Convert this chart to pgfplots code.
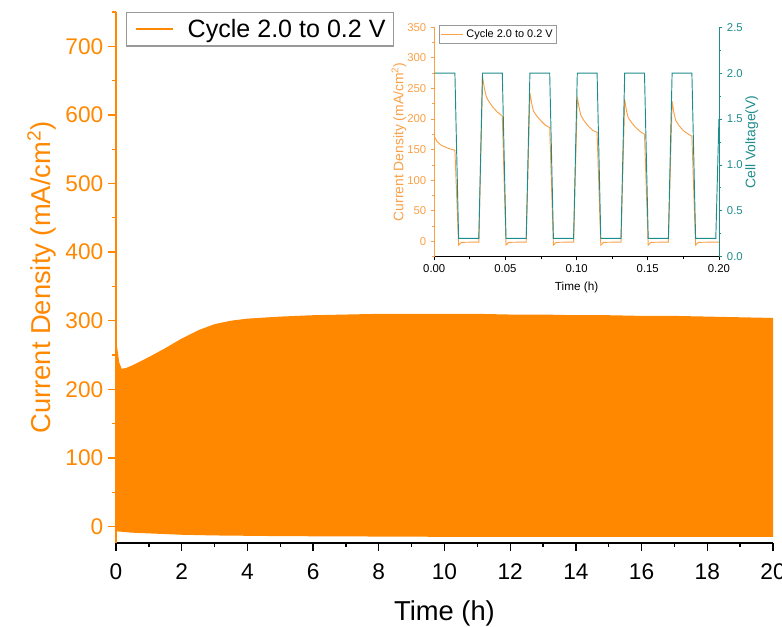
\documentclass[border=0pt]{standalone}
\usepackage{fontspec}
\setmainfont{Liberation Sans}
\usepackage{pgfplots}
\pgfplotsset{compat=1.18}
\definecolor{orangeC}{RGB}{255,136,0}
\definecolor{orangeL}{RGB}{250,160,70}
\definecolor{tealC}{RGB}{30,140,140}
\begin{document}
\begin{tikzpicture}
\begin{axis}[
  at={(0,0)}, anchor=south west,
  scale only axis, width=492.75pt, height=398.25pt,
  xmin=0, xmax=20, ymin=-24, ymax=750,
  axis x line*=bottom, axis y line*=left,
  x axis line style={black, line width=1pt, -},
  y axis line style={orangeC, line width=1pt, -},
  xtick={0,2,...,20}, minor xtick={1,3,...,19},
  ytick={0,100,...,700}, minor ytick={50,150,...,750},
  tick align=outside,
  major tick length=6pt, minor tick length=3pt,
  x tick style={black, line width=1pt},
  y tick style={orangeC, line width=1pt},
  /pgf/number format/assume math mode=true,
  ticklabel style={font=\fontsize{17}{20}\selectfont},
  xticklabel style={yshift=-6pt},
  yticklabel style={orangeC},
  xlabel={Time (h)},
  ylabel={Current Density (mA/cm\textsuperscript{2})},
  label style={font=\fontsize{20.5}{24}\selectfont},
  xlabel style={yshift=-9pt},
  ylabel style={orangeC},
  legend style={at={(0.015,1)}, anchor=north west, draw=gray!80, line width=0.8pt,
    font=\fontsize{18.8}{21}\selectfont, inner xsep=4pt, inner ysep=3pt},
  legend cell align=left,
  legend image code/.code={\path[draw=none] (-3pt,0pt) -- (0pt,0pt); \draw[#1] (0pt,0pt) -- (28pt,0pt); \path[draw=none] (28pt,0pt) -- (37pt,0pt);},
]
\addplot[fill=orangeC, draw=none, forget plot] coordinates {
(0,-23) (0,272) (0.05,256) (0.1,239) (0.17,230) (0.3,231) (0.5,235) (0.75,241) (1.0,247)
(1.5,260) (2.0,274) (2.5,286) (3.0,295) (3.5,300) (4.0,303) (5,306) (6,308) (7,309)
(8,310) (9,310) (10,310) (11,310) (12,309) (13,309) (14,308) (15,308) (16,307)
(17,307) (18,306) (19,305) (20,304)
(20,-15) (10,-15) (5,-14) (3,-13) (2,-12) (1,-10) (0.5,-9) (0.02,-7) (0.01,-23)
};
\addlegendimage{orangeC, line width=1.2pt}
\addlegendentry{Cycle 2.0 to 0.2 V}
\end{axis}

% inset, current density
\begin{axis}[
  at={(238.7pt,214.7pt)}, anchor=south west,
  scale only axis, width=213.5pt, height=172.1pt,
  xmin=0, xmax=0.2, ymin=-25, ymax=350,
  axis x line*=bottom, axis y line*=left,
  x axis line style={black, line width=0.6pt, -},
  y axis line style={orangeL, line width=0.6pt, -},
  xtick={0,0.05,0.1,0.15,0.2}, minor xtick={0.025,0.075,0.125,0.175},
  ytick={0,50,...,350}, minor ytick={-25,25,75,...,325},
  tick align=outside,
  major tick length=2.5pt, minor tick length=1.5pt,
  x tick style={black, line width=0.6pt},
  y tick style={orangeL, line width=0.6pt},
  xticklabel style={/pgf/number format/.cd, fixed, fixed zerofill, precision=2},
  /pgf/number format/assume math mode=true,
  ticklabel style={font=\fontsize{8.5}{10}\selectfont},
  yticklabel style={orangeL},
  xlabel={Time (h)},
  ylabel={Current Density (mA/cm\textsuperscript{2})},
  xlabel style={font=\fontsize{8.8}{10}\selectfont},
  ylabel style={orangeL, font=\fontsize{10.4}{12}\selectfont, yshift=-6pt},
  legend style={at={(0.015,1.01)}, anchor=north west, draw=gray!80, line width=0.5pt,
    font=\fontsize{8.2}{10}\selectfont, inner xsep=1pt, inner ysep=1pt},
  legend cell align=left,
  legend image code/.code={\draw[#1] (0pt,0pt) -- (17pt,0pt);},
]
\addplot[orangeL, line width=0.7pt] coordinates {
(0,172) (0.002,163) (0.005,157) (0.01,152) (0.0145,149)
(0.0171,-6) (0.018,-4) (0.019,-1.5) (0.0313,-1)
(0.0339,270) (0.0352,250) (0.0365,237) (0.038,230) (0.041,220) (0.044,212) (0.0478,205)
(0.0504,-6) (0.0513,-4) (0.0523,-1.5) (0.0646,-1)
(0.0672,243) (0.0685,225) (0.0697,213) (0.072,205) (0.075,197) (0.078,190) (0.0811,186)
(0.0837,-6) (0.0846,-4) (0.0856,-1.5) (0.0979,-1)
(0.1005,236) (0.1018,218) (0.1030,206) (0.105,198) (0.108,189) (0.111,182) (0.1144,178)
(0.1170,-6) (0.1179,-4) (0.1189,-1.5) (0.1312,-1)
(0.1338,232) (0.1351,213) (0.1363,202) (0.139,193) (0.142,185) (0.145,179) (0.1477,175)
(0.1503,-6) (0.1512,-4) (0.1522,-1.5) (0.1645,-1)
(0.1671,229) (0.1684,210) (0.1696,198) (0.172,189) (0.175,181) (0.178,176) (0.1810,172)
(0.1836,-6) (0.1845,-4) (0.1855,-1.5) (0.1978,-1) (0.2,-1)
};
\addlegendentry{Cycle 2.0 to 0.2 V}
\end{axis}

% inset, cell voltage
\begin{axis}[
  at={(238.7pt,214.7pt)}, anchor=south west,
  scale only axis, width=213.5pt, height=172.1pt,
  xmin=0, xmax=0.2, ymin=0, ymax=2.5,
  axis x line=none, axis y line*=right,
  y axis line style={tealC, line width=0.6pt, -},
  ytick={0,0.5,...,2.5}, minor ytick={0.25,0.75,...,2.25},
  tick align=outside,
  major tick length=2.5pt, minor tick length=1.5pt,
  y tick style={tealC, line width=0.6pt},
  yticklabel style={tealC, /pgf/number format/.cd, fixed, fixed zerofill, precision=1},
  /pgf/number format/assume math mode=true,
  ticklabel style={font=\fontsize{8.5}{10}\selectfont},
  ylabel={Cell Voltage(V)},
  ylabel style={tealC, font=\fontsize{10.4}{12}\selectfont, yshift=5pt},
]
\addplot[tealC, line width=0.7pt] coordinates {
(0,2.0) (0.0145,2.0) (0.0171,0.2) (0.0313,0.2)
(0.0339,2.0) (0.0478,2.0) (0.0504,0.2) (0.0646,0.2)
(0.0672,2.0) (0.0811,2.0) (0.0837,0.2) (0.0979,0.2)
(0.1005,2.0) (0.1144,2.0) (0.1170,0.2) (0.1312,0.2)
(0.1338,2.0) (0.1477,2.0) (0.1503,0.2) (0.1645,0.2)
(0.1671,2.0) (0.1810,2.0) (0.1836,0.2) (0.1978,0.2) (0.2,1.5)
};
\end{axis}
\pgfresetboundingbox
\useasboundingbox (-87pt,-63pt) rectangle (499.5pt,407.25pt);
\end{tikzpicture}
\end{document}
